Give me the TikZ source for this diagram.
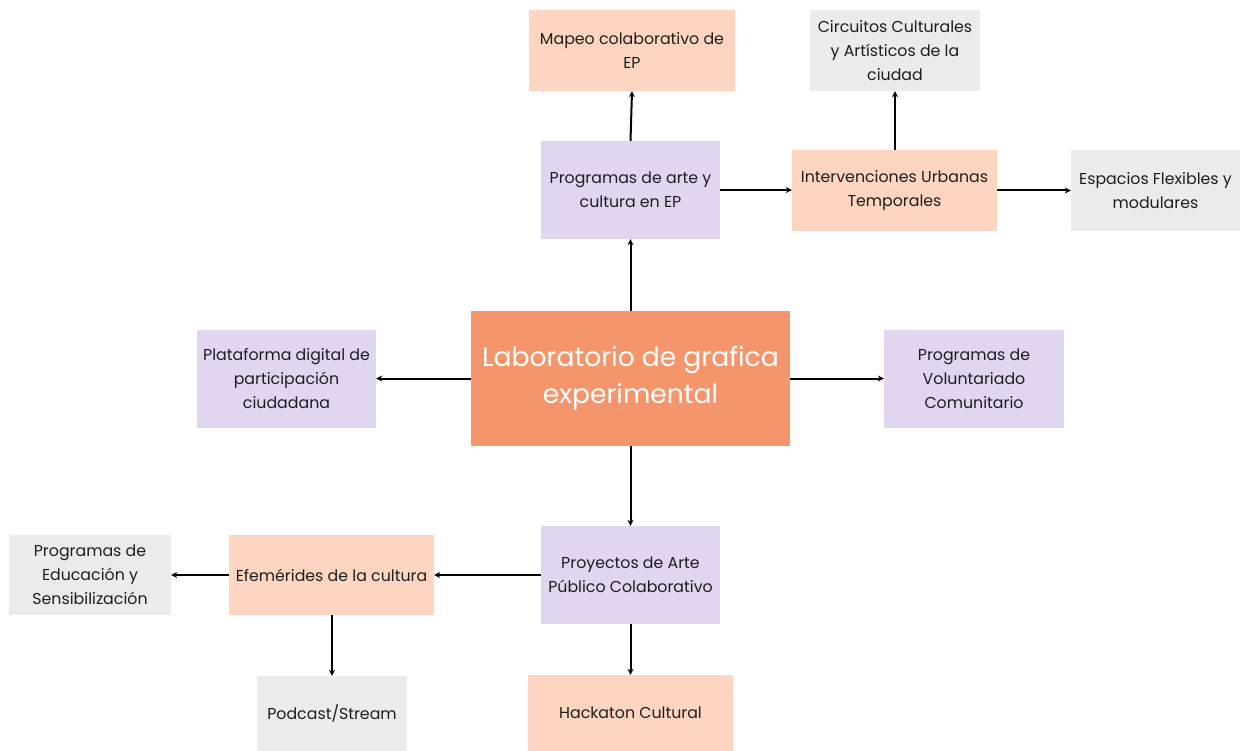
\documentclass[tikz,border=0pt]{standalone}
\usepackage{fontspec}
\setmainfont{Poppins}
\usetikzlibrary{arrows.meta}
\definecolor{mainor}{HTML}{F4956B}
\definecolor{peach}{HTML}{FDD5C1}
\definecolor{lav}{HTML}{E1D5F0}
\definecolor{grayb}{HTML}{EBEBEB}
\definecolor{txt}{HTML}{1E1E1E}
\tikzset{
  box/.style={inner sep=0pt, align=center, text=txt,
    font=\fontsize{15.8}{24}\selectfont},
  pbox/.style={box, fill=peach},
  lbox/.style={box, fill=lav},
  gbox/.style={box, fill=grayb},
  conn/.style={draw=black, line width=2pt, -{Stealth[length=6pt,width=6pt]}}
}
\newcommand{\bx}[7]{% name, style, x1,y1,x2,y2, text
  \node[#2, minimum width={(#5-#3)*1pt}, minimum height={(#6-#4)*1pt}] (#1) at ({(#3+#5)/2},{(#4+#6)/2}) {#7};}
\begin{document}
\begin{tikzpicture}[x=1pt,y=-1pt]
\useasboundingbox[fill=white] (0,0) rectangle (1250,751);
\node[fill=mainor, inner sep=0pt, minimum width=319pt, minimum height=135pt, align=center, text=white,
  font=\fontsize{26.6}{37}\selectfont] (lab) at (630.5,378.5) {Laboratorio de grafica\\experimental};
\bx{mapeo}{pbox}{529}{10}{735}{91}{Mapeo colaborativo de\\EP}
\bx{circ}{gbox}{810}{10}{980}{91}{Circuitos Culturales\\y Artísticos de la\\ciudad}
\bx{prog}{lbox}{541}{141}{720}{239}{Programas de arte y\\cultura en EP}
\bx{interv}{pbox}{792}{150}{997}{231}{Intervenciones Urbanas\\Temporales}
\bx{espac}{gbox}{1071}{150}{1240}{231}{Espacios Flexibles y\\modulares}
\bx{plat}{lbox}{197}{330}{376}{428}{Plataforma digital de\\participación\\ciudadana}
\bx{volun}{lbox}{884}{330}{1064}{428}{Programas de\\Voluntariado\\Comunitario}
\bx{proy}{lbox}{541}{526}{720}{624}{Proyectos de Arte\\Público Colaborativo}
\bx{efem}{pbox}{229}{535}{434}{615}{Efemérides de la cultura}
\bx{educ}{gbox}{9}{535}{171}{615}{Programas de\\Educación y\\Sensibilización}
\bx{pod}{gbox}{257}{676}{407}{751}{Podcast/Stream}
\bx{hack}{pbox}{528}{675}{733}{751}{Hackaton Cultural}
\draw[conn] (lab.north) -- (prog.south);
\draw[conn] (prog.north) -- (mapeo.south);
\draw[conn] (prog.east) -- (prog.east -| interv.west);
\draw[conn] (interv.north -| circ.south) -- (circ.south);
\draw[conn] (interv.east) -- (espac.west);
\draw[conn] (lab.west) -- (lab.west -| plat.east);
\draw[conn] (lab.east) -- (lab.east -| volun.west);
\draw[conn] (lab.south) -- (proy.north);
\draw[conn] (proy.west |- efem.east) -- (efem.east);
\draw[conn] (efem.west) -- (educ.east);
\draw[conn] (efem.south -| pod.north) -- (pod.north);
\draw[conn] (proy.south) -- (hack.north);
\end{tikzpicture}
\end{document}
